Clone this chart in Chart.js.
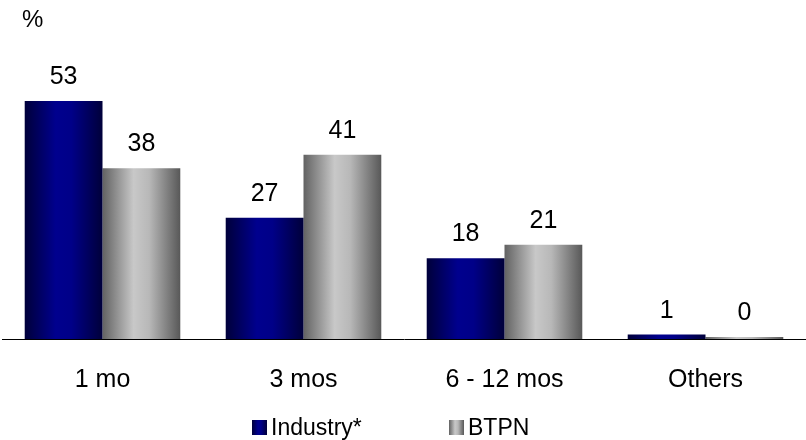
<!DOCTYPE html>
<html>
<head>
<meta charset="utf-8">
<script src="https://cdn.jsdelivr.net/npm/chart.js@4"></script>
<style>
  html, body { margin: 0; padding: 0; background: #fff; }
  #wrap { width: 806px; height: 440px; }
</style>
</head>
<body>
<div id="wrap"><canvas id="chart" width="806" height="440"></canvas></div>
<script>
  const categories = ['1 mo', '3 mos', '6 - 12 mos', 'Others'];
  const industryValues = [53, 27, 18, 1];
  const btpnValues = [38, 41, 21, 0];
  const seriesNames = ['Industry*', 'BTPN'];

  const FONT = "Arial, 'Liberation Sans', sans-serif";
  const CAT_PCT = 0.774;

  // horizontal shading like the original bars: dark edges, light middle
  const shades = [
    ['#00003a', '#00008e', '#000088', '#00003a'],
    ['#626262', '#c8c8c8', '#b8b8b8', '#585858']
  ];

  function makeGradient(ctx, x0, x1, stops) {
    const g = ctx.createLinearGradient(x0, 0, x1, 0);
    g.addColorStop(0, stops[0]);
    g.addColorStop(0.4, stops[1]);
    g.addColorStop(0.6, stops[2]);
    g.addColorStop(1, stops[3]);
    return g;
  }

  // gradient per bar, worked out from the category scale
  function barShade(context) {
    const chart = context.chart;
    const xs = chart.scales && chart.scales.x;
    const fallback = shades[context.datasetIndex || 0][1];
    if (!xs || context.dataIndex === undefined) return fallback;
    const catW = xs.width / categories.length;
    const barW = catW * CAT_PCT / 2;
    const center = xs.getPixelForValue(context.dataIndex);
    const left = center - barW + context.datasetIndex * barW;
    if (!isFinite(left) || !isFinite(barW) || barW <= 0) return fallback;
    return makeGradient(chart.ctx, left, left + barW, shades[context.datasetIndex]);
  }

  const labelPlugin = {
    id: 'valueLabels',
    afterDatasetsDraw(chart) {
      const ctx = chart.ctx;
      ctx.save();
      ctx.font = '25px ' + FONT;
      ctx.fillStyle = '#000';
      ctx.textAlign = 'center';
      ctx.textBaseline = 'alphabetic';
      chart.data.datasets.forEach((ds, i) => {
        chart.getDatasetMeta(i).data.forEach((bar, j) => {
          ctx.fillText(String(ds.data[j]), bar.x, bar.y - 17);
        });
      });
      // unit mark in the top left corner
      ctx.font = '24px ' + FONT;
      ctx.textAlign = 'left';
      ctx.fillText('%', 22, 27);
      ctx.restore();
    }
  };

  const legendPlugin = {
    id: 'legendBoxes',
    afterDraw(chart) {
      const ctx = chart.ctx;
      const spots = [252, 449];
      const y = 427.5;
      ctx.save();
      ctx.font = '23px ' + FONT;
      ctx.textBaseline = 'middle';
      ctx.textAlign = 'left';
      seriesNames.forEach((name, i) => {
        const x = spots[i];
        ctx.fillStyle = makeGradient(ctx, x, x + 15, shades[i]);
        ctx.fillRect(x, y - 7.5, 15, 15);
        ctx.fillStyle = '#000';
        ctx.fillText(name, x + 19, y + 1);
      });
      ctx.restore();
    }
  };

  new Chart(document.getElementById('chart'), {
    type: 'bar',
    data: {
      labels: categories,
      datasets: [
        { label: seriesNames[0], data: industryValues, backgroundColor: barShade, minBarLength: 2 },
        { label: seriesNames[1], data: btpnValues, backgroundColor: barShade, minBarLength: 2 }
      ]
    },
    options: {
      responsive: false,
      animation: false,
      layout: { padding: { top: 47, left: 2, right: 0, bottom: 19 } },
      datasets: { bar: { categoryPercentage: CAT_PCT, barPercentage: 1, borderWidth: 0 } },
      plugins: { legend: { display: false }, tooltip: { enabled: false } },
      scales: {
        x: {
          grid: { display: false, drawTicks: false },
          border: { display: true, color: '#000', width: 1 },
          ticks: { color: '#000', font: { size: 25, family: FONT }, padding: 26 }
        },
        y: {
          display: false,
          min: 0,
          max: 65
        }
      }
    },
    plugins: [labelPlugin, legendPlugin]
  });
</script>
</body>
</html>
